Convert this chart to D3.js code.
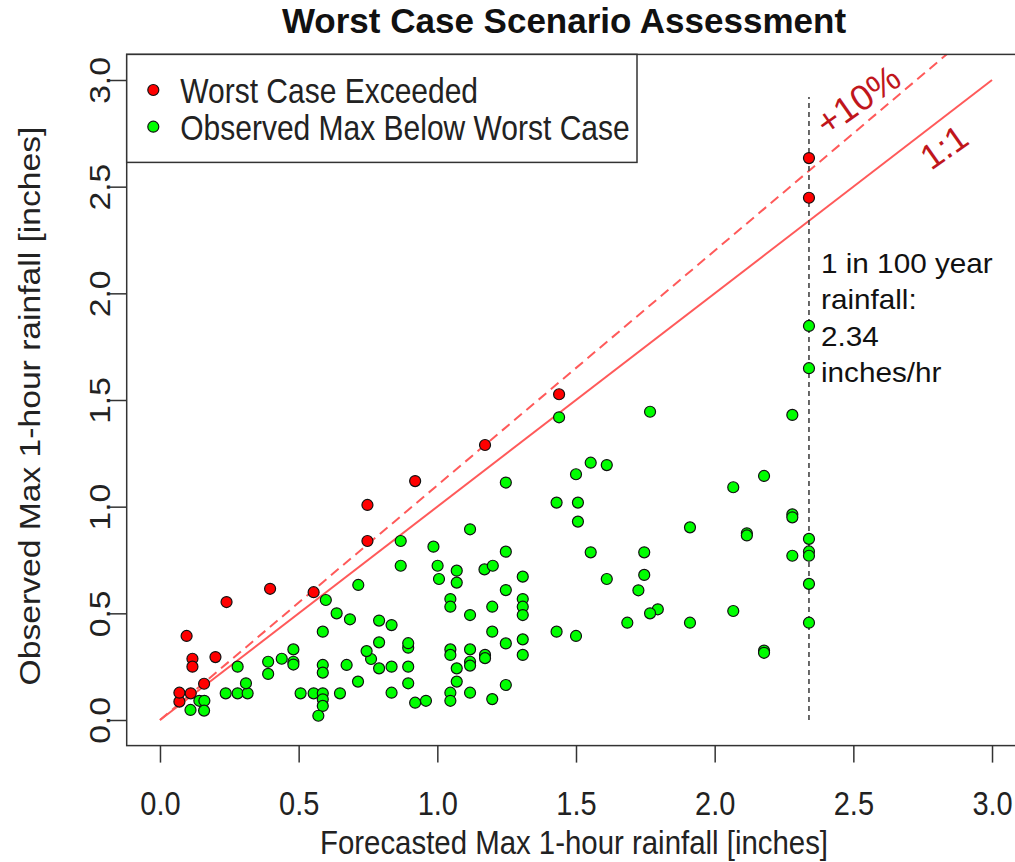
<!DOCTYPE html>
<html>
<head>
<meta charset="utf-8">
<script src="https://cdn.jsdelivr.net/npm/d3@7"></script>
<style>
  body { margin: 0; background: #fff; }
  svg { display: block; font-family: "Liberation Sans", Arial, sans-serif; }
</style>
</head>
<body>
<div id="chart"></div>
<script>
// Points above the 1:1 line (forecast, observed)
const exceeded = [
  [0.07, 0.086], [0.07, 0.128], [0.111, 0.125], [0.096, 0.394], [0.117, 0.287],
  [0.117, 0.25], [0.159, 0.17], [0.2, 0.295], [0.24, 0.553], [0.397, 0.615],
  [0.554, 0.599], [0.748, 1.008], [0.748, 0.839], [0.92, 1.12], [1.172, 1.289],
  [1.439, 1.527], [2.34, 2.634], [2.34, 2.448]
];

// Points below worst case
const belowWorst = [
  [0.28, 0.25], [0.142, 0.09], [0.16, 0.09], [0.11, 0.047], [0.159, 0.044],
  [0.237, 0.125], [0.28, 0.125], [0.316, 0.125], [0.31, 0.172], [0.39, 0.273],
  [0.39, 0.216], [0.439, 0.287], [0.481, 0.331], [0.481, 0.273], [0.481, 0.26],
  [0.507, 0.125], [0.554, 0.125], [0.587, 0.125], [0.587, 0.097], [0.587, 0.066],
  [0.571, 0.02], [0.587, 0.258], [0.587, 0.222], [0.587, 0.414], [0.598, 0.5625],
  [0.637, 0.5], [0.685, 0.472], [0.673, 0.258], [0.649, 0.125], [0.715, 0.633],
  [0.714, 0.18],
  [0.868, 0.839], [0.868, 0.723], [0.986, 0.8125], [1.001, 0.723], [1.006, 0.661],
  [1.07, 0.7], [1.07, 0.644], [1.118, 0.894], [1.247, 1.113], [1.247, 0.789],
  [1.17, 0.706], [1.2, 0.723], [1.308, 0.672], [1.247, 0.609], [1.308, 0.567],
  [1.308, 0.531], [1.308, 0.492], [1.43, 1.019], [1.43, 0.414], [1.047, 0.567],
  [1.047, 0.531], [1.118, 0.492], [1.198, 0.531], [1.198, 0.414], [1.247, 0.359],
  [1.308, 0.378], [1.308, 0.305], [1.172, 0.305], [1.172, 0.29], [1.118, 0.331],
  [1.118, 0.273], [1.118, 0.255], [1.047, 0.331], [1.047, 0.305], [1.07, 0.242],
  [1.07, 0.18], [1.047, 0.128], [1.047, 0.09], [1.118, 0.128], [1.198, 0.098],
  [1.247, 0.164], [0.959, 0.09], [0.92, 0.081], [0.895, 0.172], [0.895, 0.25],
  [0.895, 0.339], [0.895, 0.36], [0.835, 0.25], [0.835, 0.128], [0.835, 0.445],
  [0.79, 0.466], [0.79, 0.364], [0.79, 0.242], [0.761, 0.286], [0.745, 0.323],
  [1.439, 1.419], [1.767, 1.445], [2.28, 1.43], [1.553, 1.206], [1.611, 1.195],
  [1.5, 1.152], [2.178, 1.144], [2.067, 1.091], [1.507, 1.019], [1.507, 0.93],
  [2.28, 0.964], [2.28, 0.95], [1.911, 0.903], [2.116, 0.875], [2.116, 0.865],
  [1.553, 0.786], [1.746, 0.786], [2.28, 0.77], [1.611, 0.661], [1.746, 0.68],
  [1.725, 0.608], [1.795, 0.519], [1.767, 0.5], [1.685, 0.456], [1.911, 0.456],
  [2.067, 0.511], [1.5, 0.394], [2.178, 0.325], [2.178, 0.315],
  [2.34, 1.847], [2.34, 1.649], [2.34, 0.849], [2.34, 0.79], [2.34, 0.77],
  [2.34, 0.638], [2.34, 0.456]
];

const tickValues = [0, 0.5, 1, 1.5, 2, 2.5, 3];
const oneToOne = [[0, 0], [3, 3]];
const plusTen = [[0, 0], [3, 3.3]];
const rainfall100 = [[2.34, 0], [2.34, 2.92]];
const noteLines = ["1 in 100 year", "rainfall:", "2.34", "inches/hr"];
const legendItems = [
  { label: "Worst Case Exceeded", color: "#ff0000" },
  { label: "Observed Max Below Worst Case", color: "#00ff00" }
];

const width = 1015, height = 862;
const stretch = 1.16; // text in the picture is a bit tall

const svg = d3.select("#chart").append("svg")
  .attr("width", width)
  .attr("height", height);

const x = d3.scaleLinear().domain([-0.12, 3.12]).range([126.7, 1025.3]);
const y = d3.scaleLinear().domain([-0.12, 3.12]).range([745.6, 54.4]);

svg.append("clipPath").attr("id", "plot-clip")
  .append("rect")
  .attr("x", x(-0.12)).attr("y", y(3.12))
  .attr("width", x(3.12) - x(-0.12)).attr("height", y(-0.12) - y(3.12));

// Title
svg.append("text")
  .attr("x", 564).attr("y", 33)
  .attr("text-anchor", "middle")
  .attr("font-size", "35px")
  .attr("font-weight", "bold")
  .attr("fill", "#111")
  .text("Worst Case Scenario Assessment");

// Axes
const xAxis = svg.append("g")
  .attr("transform", `translate(0,${y(-0.12)})`)
  .call(d3.axisBottom(x).tickValues(tickValues).tickFormat(d3.format(".1f")).tickSize(17));
xAxis.select(".domain").remove();
xAxis.selectAll("line").attr("stroke", "#333").attr("stroke-width", 1.5);
xAxis.selectAll("text")
  .attr("y", 69 / stretch).attr("dy", null)
  .attr("transform", `scale(1,${stretch})`)
  .attr("font-size", "29px")
  .attr("fill", "#222");

const yAxis = svg.append("g")
  .attr("transform", `translate(${x(-0.12)},0)`)
  .call(d3.axisLeft(y).tickValues(tickValues).tickFormat(d3.format(".1f")).tickSize(17));
yAxis.select(".domain").remove();
yAxis.selectAll("line").attr("stroke", "#333").attr("stroke-width", 1.5);
yAxis.selectAll("text")
  .attr("x", 0).attr("y", -17).attr("dy", null)
  .attr("text-anchor", "middle")
  .attr("transform", `rotate(-90) scale(${stretch},1)`)
  .attr("font-size", "29px")
  .attr("fill", "#222");

// Axis titles
svg.append("text")
  .attr("transform", `translate(574,854) scale(1,${stretch})`)
  .attr("text-anchor", "middle")
  .attr("font-size", "29.4px")
  .attr("fill", "#222")
  .text("Forecasted Max 1-hour rainfall [inches]");

svg.append("text")
  .attr("transform", `translate(40,406) rotate(-90) scale(${stretch},1)`)
  .attr("text-anchor", "middle")
  .attr("font-size", "29px")
  .attr("fill", "#222")
  .text("Observed Max 1-hour rainfall [inches]");

// Reference lines
const line = d3.line().x(d => x(d[0])).y(d => y(d[1]));
const plot = svg.append("g").attr("clip-path", "url(#plot-clip)");

plot.append("path")
  .datum(oneToOne)
  .attr("d", line)
  .attr("fill", "none")
  .attr("stroke", "#ff5a5a")
  .attr("stroke-width", 2);

plot.append("path")
  .datum(plusTen)
  .attr("d", line)
  .attr("fill", "none")
  .attr("stroke", "#ff5a5a")
  .attr("stroke-width", 2)
  .attr("stroke-dasharray", "10,6");

plot.append("path")
  .datum(rainfall100)
  .attr("d", line)
  .attr("fill", "none")
  .attr("stroke", "#444")
  .attr("stroke-width", 1.6)
  .attr("stroke-dasharray", "5,4");

// Points
plot.selectAll("circle.below")
  .data(belowWorst)
  .join("circle")
  .attr("class", "below")
  .attr("cx", d => x(d[0]))
  .attr("cy", d => y(d[1]))
  .attr("r", 5.5)
  .attr("fill", "#00ff00")
  .attr("stroke", "#111")
  .attr("stroke-width", 1.2);

plot.selectAll("circle.exceeded")
  .data(exceeded)
  .join("circle")
  .attr("class", "exceeded")
  .attr("cx", d => x(d[0]))
  .attr("cy", d => y(d[1]))
  .attr("r", 5.5)
  .attr("fill", "#ff0000")
  .attr("stroke", "#111")
  .attr("stroke-width", 1.2);

// Line labels
svg.append("text")
  .attr("transform", "translate(858,100) rotate(-35)")
  .attr("text-anchor", "middle")
  .attr("dy", "0.35em")
  .attr("font-size", "36px")
  .attr("fill", "#c0161c")
  .text("+10%");

svg.append("text")
  .attr("transform", "translate(944,147) rotate(-35)")
  .attr("text-anchor", "middle")
  .attr("dy", "0.35em")
  .attr("font-size", "35px")
  .attr("fill", "#c0161c")
  .text("1:1");

// Note next to the vertical line
svg.append("g")
  .selectAll("text")
  .data(noteLines)
  .join("text")
  .attr("transform", (d, i) => `translate(821,${273 + i * 36.3}) scale(1.1,1)`)
  .attr("font-size", "27px")
  .attr("fill", "#111")
  .text(d => d);

// Plot box
svg.append("rect")
  .attr("x", x(-0.12)).attr("y", y(3.12))
  .attr("width", x(3.12) - x(-0.12)).attr("height", y(-0.12) - y(3.12))
  .attr("fill", "none")
  .attr("stroke", "#333")
  .attr("stroke-width", 1.5);

// Legend
const legend = svg.append("g");
legend.append("rect")
  .attr("x", x(-0.12)).attr("y", y(3.12))
  .attr("width", 637 - x(-0.12)).attr("height", 108)
  .attr("fill", "#fff")
  .attr("stroke", "#333")
  .attr("stroke-width", 1.5);

const items = legend.selectAll("g.item")
  .data(legendItems)
  .join("g")
  .attr("class", "item")
  .attr("transform", (d, i) => `translate(153.3,${90 + i * 36.7})`);
items.append("circle")
  .attr("r", 5.5)
  .attr("fill", d => d.color)
  .attr("stroke", "#111")
  .attr("stroke-width", 1.2);
items.append("text")
  .attr("transform", `translate(27,13.3) scale(1,${stretch})`)
  .attr("font-size", "30px")
  .attr("fill", "#222")
  .text(d => d.label);
</script>
</body>
</html>
